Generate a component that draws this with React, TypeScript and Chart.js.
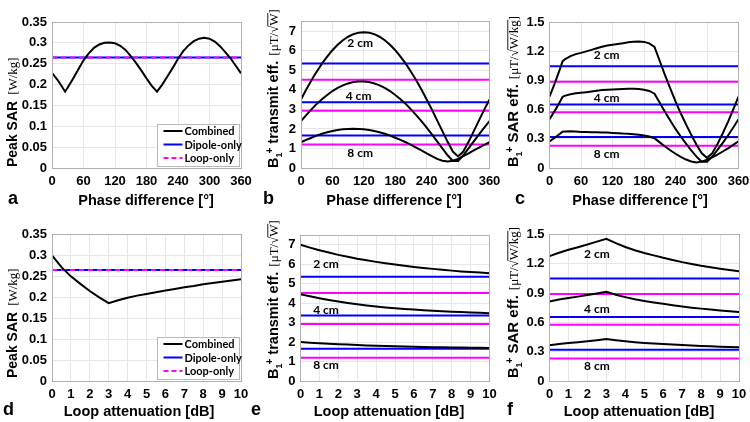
import { useEffect, useRef } from 'react';
import { Chart, registerables } from 'chart.js';

Chart.register(...registerables);

// ---------------- data ----------------
const phaseDeg = [0, 10, 20, 25, 30, 40, 50, 60, 70, 80, 90, 100, 110, 120, 130, 140, 150, 160, 170, 180, 190, 200, 210, 220, 230, 240, 250, 260, 270, 280, 290, 300, 310, 320, 330, 340, 350, 360];

const peakSarPhase = [0.228, 0.212, 0.193, 0.183, 0.193, 0.214, 0.236, 0.258, 0.275, 0.288, 0.296, 0.300, 0.301, 0.299, 0.293, 0.283, 0.268, 0.252, 0.234, 0.215, 0.197, 0.183, 0.200, 0.220, 0.240, 0.262, 0.280, 0.294, 0.304, 0.310, 0.312, 0.310, 0.303, 0.292, 0.278, 0.263, 0.245, 0.227];

const b1Phase2cm = [3.51, 4.02, 4.49, 4.72, 4.93, 5.34, 5.70, 6.03, 6.31, 6.54, 6.72, 6.85, 6.93, 6.95, 6.93, 6.85, 6.72, 6.54, 6.31, 6.03, 5.70, 5.34, 4.93, 4.49, 4.02, 3.51, 2.99, 2.44, 1.89, 1.34, 0.84, 0.59, 0.84, 1.34, 1.89, 2.44, 2.99, 3.51];
const b1Phase4cm = [2.40, 2.71, 3.00, 3.14, 3.28, 3.52, 3.74, 3.94, 4.10, 4.23, 4.33, 4.40, 4.43, 4.43, 4.40, 4.33, 4.23, 4.10, 3.94, 3.74, 3.52, 3.28, 3.00, 2.71, 2.40, 2.07, 1.72, 1.36, 1.00, 0.65, 0.36, 0.36, 0.65, 1.00, 1.36, 1.72, 2.07, 2.40];
const b1Phase8cm = [1.32, 1.44, 1.55, 1.61, 1.66, 1.75, 1.83, 1.89, 1.94, 1.98, 2.00, 2.01, 2.00, 1.98, 1.94, 1.89, 1.83, 1.75, 1.66, 1.55, 1.44, 1.32, 1.18, 1.04, 0.90, 0.75, 0.61, 0.47, 0.37, 0.33, 0.37, 0.47, 0.61, 0.75, 0.90, 1.04, 1.18, 1.32];

const sarEffPhase2cm = [0.736, 0.872, 1.022, 1.102, 1.123, 1.154, 1.174, 1.187, 1.202, 1.218, 1.234, 1.250, 1.262, 1.271, 1.279, 1.287, 1.297, 1.302, 1.303, 1.300, 1.285, 1.248, 1.103, 0.958, 0.820, 0.686, 0.564, 0.450, 0.342, 0.240, 0.151, 0.105, 0.153, 0.248, 0.358, 0.476, 0.603, 0.737];
const sarEffPhase4cm = [0.502, 0.589, 0.684, 0.734, 0.746, 0.761, 0.770, 0.775, 0.781, 0.788, 0.796, 0.803, 0.807, 0.810, 0.812, 0.814, 0.817, 0.816, 0.814, 0.807, 0.794, 0.766, 0.672, 0.578, 0.489, 0.403, 0.325, 0.252, 0.182, 0.117, 0.064, 0.065, 0.118, 0.186, 0.259, 0.335, 0.417, 0.503];
const sarEffPhase8cm = [0.275, 0.312, 0.353, 0.375, 0.377, 0.378, 0.376, 0.372, 0.370, 0.369, 0.368, 0.367, 0.365, 0.362, 0.359, 0.355, 0.353, 0.348, 0.342, 0.335, 0.324, 0.307, 0.264, 0.222, 0.183, 0.147, 0.115, 0.087, 0.067, 0.058, 0.066, 0.085, 0.110, 0.139, 0.170, 0.203, 0.239, 0.276];

const attenDb = [0, 0.5, 1, 1.5, 2, 2.5, 3, 3.5, 4, 4.5, 5, 5.5, 6, 6.5, 7, 7.5, 8, 8.5, 9, 9.5, 10];
const peakSarAtten = [0.300, 0.272, 0.250, 0.232, 0.215, 0.200, 0.186, 0.193, 0.199, 0.204, 0.208, 0.212, 0.216, 0.220, 0.224, 0.227, 0.231, 0.234, 0.237, 0.240, 0.243];
const b1Atten2cm = [7.00, 6.85, 6.72, 6.60, 6.48, 6.38, 6.28, 6.20, 6.12, 6.05, 5.98, 5.92, 5.86, 5.81, 5.76, 5.71, 5.67, 5.63, 5.60, 5.57, 5.54];
const b1Atten4cm = [4.45, 4.35, 4.25, 4.16, 4.08, 4.01, 3.94, 3.88, 3.83, 3.78, 3.74, 3.70, 3.67, 3.64, 3.61, 3.58, 3.56, 3.54, 3.52, 3.50, 3.48];
const b1Atten8cm = [2.00, 1.97, 1.94, 1.91, 1.89, 1.87, 1.85, 1.83, 1.81, 1.795, 1.78, 1.77, 1.76, 1.75, 1.74, 1.73, 1.72, 1.715, 1.71, 1.705, 1.70];
const sarEffAtten2cm = [1.278, 1.313, 1.344, 1.370, 1.397, 1.427, 1.456, 1.411, 1.372, 1.339, 1.311, 1.286, 1.261, 1.239, 1.217, 1.199, 1.180, 1.164, 1.150, 1.137, 1.124];
const sarEffAtten4cm = [0.813, 0.834, 0.850, 0.864, 0.880, 0.897, 0.914, 0.883, 0.859, 0.837, 0.820, 0.804, 0.790, 0.776, 0.763, 0.751, 0.741, 0.732, 0.723, 0.714, 0.706];
const sarEffAtten8cm = [0.365, 0.378, 0.388, 0.397, 0.408, 0.418, 0.429, 0.417, 0.406, 0.397, 0.390, 0.384, 0.379, 0.373, 0.368, 0.363, 0.358, 0.355, 0.351, 0.348, 0.345];

const dipoleOnlySar = 0.265;
const loopOnlySar = 0.265;
const dipoleOnlyB1 = [5.35, 3.36, 1.66];
const loopOnlyB1 = [4.52, 2.93, 1.2];
const dipoleOnlySarEff = [1.05, 0.655, 0.32];
const loopOnlySarEff = [0.89, 0.575, 0.23];

// tick values
const phaseTicks = [0, 60, 120, 180, 240, 300, 360];
const attenTicks = [0, 1, 2, 3, 4, 5, 6, 7, 8, 9, 10];
const sarTicks = [0, 0.05, 0.1, 0.15, 0.2, 0.25, 0.3, 0.35];
const b1Ticks = [0, 1, 2, 3, 4, 5, 6, 7];
const sarEffTicks = [0, 0.3, 0.6, 0.9, 1.2, 1.5];

const depthLabels = ['2 cm', '4 cm', '8 cm'];
const legendLabels = ['Combined', 'Dipole-only', 'Loop-only'];
const phaseTitle = 'Phase difference [°]';
const attenTitle = 'Loop attenuation [dB]';

// ---------------- styling ----------------
const SANS = '"Liberation Sans", Arial, sans-serif';
const SERIF = '"Liberation Serif", "Times New Roman", serif';
const LBL = 'Lato, "Liberation Sans", sans-serif';
const BLACK = '#000000';
const BLUE = '#0000ff';
const MAGENTA = '#ff00ff';

type Seg = { t: string; font: string; shift?: number; gap?: number; over?: boolean };

const unitsB1: Seg[] = [
  { t: '[μT/', font: `13px ${SERIF}`, gap: 5 },
  { t: '√', font: `13px ${SERIF}` },
  { t: 'W', font: `13px ${SERIF}`, over: true },
  { t: ']', font: `13px ${SERIF}` },
];
const unitsSarEff: Seg[] = [
  { t: '[μT/', font: `13px ${SERIF}`, gap: 5 },
  { t: '√', font: `13px ${SERIF}` },
  { t: 'W/kg', font: `13px ${SERIF}`, over: true },
  { t: ']', font: `13px ${SERIF}` },
];
const titleSar: Seg[] = [
  { t: 'Peak SAR', font: `bold 14px ${SANS}` },
  { t: '[W/kg]', font: `13px ${SERIF}`, gap: 6 },
];
const b1Prefix: Seg[] = [
  { t: 'B', font: `bold 14.5px ${SANS}` },
  { t: '1', font: `bold 9px ${SANS}`, shift: 4 },
  { t: '+', font: `bold 10px ${SANS}`, shift: -5, gap: -1 },
];
const titleB1: Seg[] = [...b1Prefix, { t: ' transmit eff.', font: `bold 14.5px ${SANS}` }, ...unitsB1];
const titleSarEff: Seg[] = [...b1Prefix, { t: ' SAR eff.', font: `bold 15px ${SANS}` }, ...unitsSarEff];

function xy(xs: number[], ys: number[]) {
  return xs.map((x, i) => ({ x, y: ys[i] }));
}
function hline(xMax: number, y: number) {
  return [{ x: 0, y }, { x: xMax, y }];
}
function line(data: any[], color: string, dash?: number[]) {
  return {
    data,
    borderColor: color,
    backgroundColor: color,
    borderWidth: 2,
    borderDash: dash || [],
    pointRadius: 0,
    tension: 0,
    fill: false,
  };
}

function sarSets(xs: number[], ys: number[], xMax: number) {
  return [
    line(xy(xs, ys), BLACK),
    line(hline(xMax, loopOnlySar), MAGENTA, [5, 4]),
    line(hline(xMax, dipoleOnlySar), BLUE),
  ];
}
function depthSets(xs: number[], curves: number[][], dip: number[], loop: number[], xMax: number) {
  return [
    ...curves.map((c) => line(xy(xs, c), BLACK)),
    ...dip.map((v) => line(hline(xMax, v), BLUE)),
    ...loop.map((v) => line(hline(xMax, v), MAGENTA)),
  ];
}

type Panel = {
  key: string;
  left: number;
  top: number;
  width: number;
  area: { l: number; r: number; t: number; b: number };
  xMax: number;
  xTicks: number[];
  yMax: number;
  yTicks: number[];
  xTitle: string;
  xTitleX: number;
  yTitle: Seg[];
  titleBx: number;
  titleStart: number;
  letter: string;
  letterX: number;
  datasets: any[];
  legend?: boolean;
  labels?: { text: string; x: number; y: number }[];
};

const H = 211;

const PANELS: Panel[] = [
  {
    key: 'a', left: 0, top: 0, width: 262, area: { l: 52, r: 241, t: 22, b: 168 },
    xMax: 360, xTicks: phaseTicks, yMax: 0.35, yTicks: sarTicks, xTitle: phaseTitle, xTitleX: 146,
    yTitle: titleSar, titleBx: 17, titleStart: 167, letter: 'a', letterX: 8,
    datasets: sarSets(phaseDeg, peakSarPhase, 360), legend: true,
  },
  {
    key: 'b', left: 250, top: 0, width: 262, area: { l: 51, r: 239.5, t: 21.5, b: 168 },
    xMax: 360, xTicks: phaseTicks, yMax: 7.5, yTicks: b1Ticks, xTitle: phaseTitle, xTitleX: 144,
    yTitle: titleB1, titleBx: 28, titleStart: 168, letter: 'b', letterX: 13,
    datasets: depthSets(phaseDeg, [b1Phase2cm, b1Phase4cm, b1Phase8cm], dipoleOnlyB1, loopOnlyB1, 360),
    labels: [
      { text: depthLabels[0], x: 113, y: 6.38 },
      { text: depthLabels[1], x: 110, y: 3.7 },
      { text: depthLabels[2], x: 113, y: 0.77 },
    ],
  },
  {
    key: 'c', left: 500, top: 0, width: 250, area: { l: 49.5, r: 238.5, t: 22.5, b: 168 },
    xMax: 360, xTicks: phaseTicks, yMax: 1.5, yTicks: sarEffTicks, xTitle: phaseTitle, xTitleX: 140,
    yTitle: titleSarEff, titleBx: 18, titleStart: 167, letter: 'c', letterX: 15,
    datasets: depthSets(phaseDeg, [sarEffPhase2cm, sarEffPhase4cm, sarEffPhase8cm], dipoleOnlySarEff, loopOnlySarEff, 360),
    labels: [
      { text: depthLabels[0], x: 109, y: 1.165 },
      { text: depthLabels[1], x: 109, y: 0.718 },
      { text: depthLabels[2], x: 109, y: 0.142 },
    ],
  },
  {
    key: 'd', left: 0, top: 211, width: 262, area: { l: 52, r: 241, t: 23.5, b: 170 },
    xMax: 10, xTicks: attenTicks, yMax: 0.35, yTicks: sarTicks, xTitle: attenTitle, xTitleX: 139,
    yTitle: titleSar, titleBx: 17, titleStart: 167, letter: 'd', letterX: 3,
    datasets: sarSets(attenDb, peakSarAtten, 10), legend: true,
  },
  {
    key: 'e', left: 250, top: 211, width: 262, area: { l: 50.5, r: 239.5, t: 24, b: 170 },
    xMax: 10, xTicks: attenTicks, yMax: 7.5, yTicks: b1Ticks, xTitle: attenTitle, xTitleX: 139,
    yTitle: titleB1, titleBx: 28, titleStart: 168, letter: 'e', letterX: 1,
    datasets: depthSets(attenDb, [b1Atten2cm, b1Atten4cm, b1Atten8cm], dipoleOnlyB1, loopOnlyB1, 10),
    labels: [
      { text: depthLabels[0], x: 1.35, y: 6.02 },
      { text: depthLabels[1], x: 1.35, y: 3.65 },
      { text: depthLabels[2], x: 1.35, y: 0.82 },
    ],
  },
  {
    key: 'f', left: 500, top: 211, width: 250, area: { l: 49.5, r: 239, t: 23.5, b: 170 },
    xMax: 10, xTicks: attenTicks, yMax: 1.5, yTicks: sarEffTicks, xTitle: attenTitle, xTitleX: 139,
    yTitle: titleSarEff, titleBx: 18, titleStart: 167, letter: 'f', letterX: 7,
    datasets: depthSets(attenDb, [sarEffAtten2cm, sarEffAtten4cm, sarEffAtten8cm], dipoleOnlySarEff, loopOnlySarEff, 10),
    labels: [
      { text: depthLabels[0], x: 2.5, y: 1.295 },
      { text: depthLabels[1], x: 2.5, y: 0.733 },
      { text: depthLabels[2], x: 2.5, y: 0.153 },
    ],
  },
];

function drawRotated(ctx: CanvasRenderingContext2D, bx: number, startY: number, segs: Seg[]) {
  ctx.save();
  ctx.translate(bx, startY);
  ctx.rotate(-Math.PI / 2);
  ctx.fillStyle = '#000';
  ctx.strokeStyle = '#000';
  ctx.textAlign = 'left';
  ctx.textBaseline = 'alphabetic';
  let pos = 0;
  for (const s of segs) {
    ctx.font = s.font;
    pos += s.gap || 0;
    const w = ctx.measureText(s.t).width;
    ctx.fillText(s.t, pos, s.shift || 0);
    if (s.over) {
      ctx.lineWidth = 0.9;
      ctx.beginPath();
      ctx.moveTo(pos - 0.5, -10.2);
      ctx.lineTo(pos + w + 0.5, -10.2);
      ctx.stroke();
    }
    pos += w;
  }
  ctx.restore();
}

function makePlugin(p: Panel) {
  return {
    id: 'deco_' + p.key,
    afterDatasetsDraw(chart: any) {
      const ctx: CanvasRenderingContext2D = chart.ctx;
      if (p.labels) {
        ctx.save();
        ctx.fillStyle = '#000';
        ctx.font = `bold 12px ${LBL}`;
        ctx.textAlign = 'center';
        ctx.textBaseline = 'middle';
        for (const l of p.labels) {
          ctx.fillText(l.text, chart.scales.x.getPixelForValue(l.x), chart.scales.y.getPixelForValue(l.y));
        }
        ctx.restore();
      }
    },
    afterDraw(chart: any) {
      const ctx: CanvasRenderingContext2D = chart.ctx;
      const ca = chart.chartArea;
      ctx.save();
      // frame
      ctx.strokeStyle = '#b0b0b0';
      ctx.lineWidth = 1;
      const fl = Math.floor(ca.left) + 0.5;
      const ft = Math.floor(ca.top) + 0.5;
      const fr = Math.floor(ca.right) + 0.5;
      const fb = Math.floor(ca.bottom) + 0.5;
      ctx.strokeRect(fl, ft, fr - fl, fb - ft);
      // legend
      if (p.legend) {
        const bw = 82;
        const bh = 42;
        const x0 = Math.floor(ca.right - 2 - bw) + 0.5;
        const y0 = Math.floor(ca.bottom - 1.5 - bh) + 0.5;
        ctx.fillStyle = '#fff';
        ctx.fillRect(x0, y0, bw, bh);
        ctx.strokeStyle = '#b8b8b8';
        ctx.strokeRect(x0, y0, bw, bh);
        const colors = [BLACK, BLUE, MAGENTA];
        for (let i = 0; i < 3; i++) {
          const yy = y0 + 6.5 + i * 13.5;
          ctx.strokeStyle = colors[i];
          ctx.lineWidth = 2;
          ctx.setLineDash(i === 2 ? [5, 3] : []);
          ctx.beginPath();
          ctx.moveTo(x0 + 6, yy);
          ctx.lineTo(x0 + 25, yy);
          ctx.stroke();
          ctx.setLineDash([]);
          ctx.fillStyle = '#000';
          ctx.font = `bold 11px ${LBL}`;
          ctx.textAlign = 'left';
          ctx.textBaseline = 'middle';
          ctx.fillText(legendLabels[i], x0 + 27, yy + 0.5);
        }
      }
      // x title
      ctx.fillStyle = '#000';
      ctx.font = `bold 14.5px ${SANS}`;
      ctx.textAlign = 'center';
      ctx.textBaseline = 'alphabetic';
      ctx.fillText(p.xTitle, p.xTitleX, 205);
      // panel letter
      ctx.font = `bold 18px ${SANS}`;
      ctx.textAlign = 'left';
      ctx.fillText(p.letter, p.letterX, 204);
      ctx.restore();
      drawRotated(ctx, p.titleBx, p.titleStart, p.yTitle);
    },
  };
}

function fmt(v: any) {
  return String(+Number(v).toFixed(4));
}

function PanelChart({ p }: { p: Panel }) {
  const ref = useRef<HTMLCanvasElement>(null);
  useEffect(() => {
    const canvas = ref.current;
    if (!canvas) return;
    const tickFont = { family: SANS, size: 13, weight: 'bold' as const };
    const chart = new Chart(canvas, {
      type: 'line',
      data: { datasets: p.datasets },
      options: {
        responsive: false,
        animation: false,
        devicePixelRatio: 1,
        layout: { padding: { left: 0, top: p.area.t, right: p.width - p.area.r, bottom: 0 } },
        plugins: { legend: { display: false }, tooltip: { enabled: false } },
        events: [],
        scales: {
          x: {
            type: 'linear',
            min: 0,
            max: p.xMax,
            ticks: { autoSkip: false, maxRotation: 0, minRotation: 0, padding: 6, color: '#000', font: tickFont, callback: fmt },
            grid: { color: '#e6e6e6', drawTicks: false },
            border: { display: false },
            afterBuildTicks: (s: any) => {
              s.ticks = p.xTicks.map((v) => ({ value: v }));
            },
            afterFit: (s: any) => {
              s.height = H - p.area.b;
              s.paddingLeft = 0;
              s.paddingRight = 0;
            },
          },
          y: {
            type: 'linear',
            min: 0,
            max: p.yMax,
            ticks: { padding: 5, color: '#000', font: tickFont, callback: fmt },
            grid: { color: '#e6e6e6', drawTicks: false },
            border: { display: false },
            afterBuildTicks: (s: any) => {
              s.ticks = p.yTicks.map((v) => ({ value: v }));
            },
            afterFit: (s: any) => {
              s.width = p.area.l;
              s.paddingTop = 0;
              s.paddingBottom = 0;
            },
          },
        },
      } as any,
      plugins: [makePlugin(p)],
    });
    return () => chart.destroy();
  }, [p]);
  return (
    <canvas
      ref={ref}
      width={p.width}
      height={H}
      style={{ position: 'absolute', left: p.left, top: p.top, width: p.width, height: H }}
    />
  );
}

export default function App() {
  return (
    <div style={{ position: 'absolute', left: 0, top: 0, width: 750, height: 422, overflow: 'hidden', background: '#fff' }}>
      {PANELS.map((p) => (
        <PanelChart key={p.key} p={p} />
      ))}
    </div>
  );
}
